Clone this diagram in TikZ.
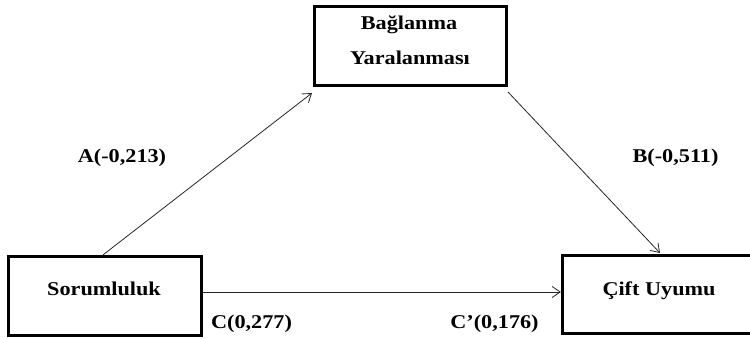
\documentclass[tikz,border=0pt]{standalone}
\usepackage{fontspec}
\setmainfont{Liberation Serif}[FakeStretch=1.14]
\usetikzlibrary{arrows.meta}
\begin{document}
\begin{tikzpicture}[x=1pt,y=-1pt,
  box/.style={draw=black,line width=3.2pt,minimum width=#1,inner sep=0pt,fill=none},
  lbl/.style={anchor=base,inner sep=0pt,font=\fontsize{19.5}{23}\selectfont\bfseries},
  conn/.style={draw=black!85,line width=0.8pt,-{Straight Barb[length=8pt,width=11pt,line width=0.8pt]}}]
\useasboundingbox (0,0) rectangle (750,339);
\clip (0,0) rectangle (750,339);
\node[box=192pt,minimum height=79pt] (m) at (410.5,46) {};
\node[box=193pt,minimum height=79pt] (s) at (105,296) {};
\node[box=191pt,minimum height=78pt] (c) at (658,294.5) {};
\node[lbl] (m1) at (409,30) {Bağlanma};
\node[lbl] (m2) at (410,65) {Yaralanması};
\node[lbl] (s1) at (104,295) {Sorumluluk};
\node[lbl] (c1) at (659,295) {Çift Uyumu};
\node[lbl] (la) at (122,163) {A(-0,213)};
\node[lbl] (lb) at (675.5,163) {B(-0,511)};
\node[lbl] (lc) at (251.5,328) {C(0,277)};
\node[lbl] (lcp) at (494.5,328) {C’(0,176)};
\coordinate (aend) at (312,93);
\coordinate (bstart) at (508,92);
\coordinate (bend) at (660,253);
\draw[conn] ([xshift=-2pt]s.north) -- (aend);
\draw[conn] (bstart) -- (bend);
\draw[conn] ([yshift=4pt]s.east) -- ([yshift=2.5pt]c.west);
\end{tikzpicture}
\end{document}
